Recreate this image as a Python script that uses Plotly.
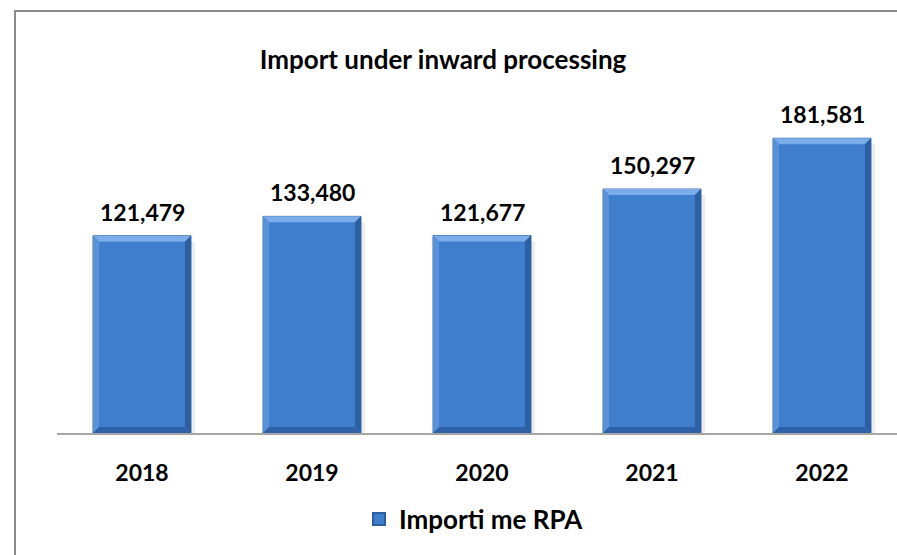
import plotly.graph_objects as go

# ---- data ----
years = ["2018", "2019", "2020", "2021", "2022"]
values = [121479, 133480, 121677, 150297, 181581]
series_name = "Importi me RPA"
title_text = "Import under inward processing"

FONT = "Lato, 'Open Sans', sans-serif"
W, H = 897, 555
ML, MR, MT, MB = 57, 0, 100, 122
plot_w = W - ML - MR
plot_h = H - MT - MB
px_per_unit = 1.623 / 1000.0
y_max = plot_h / px_per_unit
cat_px = 170.0
x_hi = -0.5 + plot_w / cat_px

bar_w = 0.576
hw = bar_w / 2
bx = 6 / cat_px
by = 6 / px_per_unit

fig = go.Figure()
fig.add_trace(go.Bar(
    x=list(range(len(years))), y=values, name=f"<b>{series_name}</b>",
    marker=dict(color="#3F7ECD", line=dict(color="#2D5E9F", width=1)),
    width=bar_w, showlegend=True,
))


def p(pts):
    return "M " + " L ".join(f"{x},{y}" for x, y in pts) + " Z"


shapes = []
for i, v in enumerate(values):
    # soft shadow on right
    shapes.append(dict(type="rect", xref="x", yref="y", x0=i + hw, x1=i + hw + 0.025,
                       y0=0, y1=v - by, fillcolor="rgba(0,0,0,0.07)", line_width=0, layer="below"))
    # top bevel
    shapes.append(dict(type="path", xref="x", yref="y", line_width=0, fillcolor="#7AADE9",
                       path=p([(i - hw, v), (i + hw, v), (i + hw - bx, v - by), (i - hw + bx, v - by)])))
    # left bevel
    shapes.append(dict(type="path", xref="x", yref="y", line_width=0, fillcolor="#5A92DA",
                       path=p([(i - hw, v), (i - hw + bx, v - by), (i - hw + bx, by), (i - hw, 0)])))
    # right bevel
    shapes.append(dict(type="path", xref="x", yref="y", line_width=0, fillcolor="#2D5FA3",
                       path=p([(i + hw, v), (i + hw - bx, v - by), (i + hw - bx, by), (i + hw, 0)])))
    # bottom bevel
    shapes.append(dict(type="path", xref="x", yref="y", line_width=0, fillcolor="#2F61A6",
                       path=p([(i - hw, 0), (i + hw, 0), (i + hw - bx, by), (i - hw + bx, by)])))

# outer border (extends beyond the visible page on right/bottom)
shapes.append(dict(type="rect", xref="paper", yref="paper",
                   x0=(15 - ML) / plot_w, x1=1.2,
                   y0=-1.0, y1=(H - MB - 11) / plot_h,
                   line=dict(color="#8C8C8C", width=2), fillcolor="rgba(0,0,0,0)", layer="below"))

annotations = []
for i, v in enumerate(values):
    annotations.append(dict(x=i, y=v, xref="x", yref="y", text=f"<b>{v:,}</b>", showarrow=False,
                            yshift=24, font=dict(family=FONT, size=23, color="black")))

fig.update_layout(
    width=W, height=H,
    margin=dict(l=ML, r=MR, t=MT, b=MB),
    paper_bgcolor="white", plot_bgcolor="white",
    title=dict(text=f"<b>{title_text}</b>", x=443 / W, xanchor="center",
               y=1 - 60 / H, yanchor="middle",
               font=dict(family=FONT, size=26, color="black")),
    xaxis=dict(range=[-0.5, x_hi], tickmode="array", tickvals=list(range(len(years))),
               ticktext=[f"<b>{y}</b>" for y in years], showgrid=False, zeroline=False,
               showline=True, linecolor="#A6A6A6", linewidth=2,
               ticks="outside", ticklen=18, tickcolor="rgba(0,0,0,0)",
               tickfont=dict(family=FONT, size=23, color="black")),
    yaxis=dict(range=[0, y_max], visible=False, showgrid=False, zeroline=False),
    showlegend=True,
    legend=dict(orientation="h", x=(474 - ML) / plot_w, xanchor="center",
                y=(H - MB - 519) / plot_h, yanchor="middle",
                font=dict(family=FONT, size=26, color="black"),
                itemsizing="constant"),
    shapes=shapes, annotations=annotations,
)

fig.write_html("out.html", config={"displayModeBar": False},
               post_script="document.body.style.margin='0';document.body.style.overflow='hidden';")
